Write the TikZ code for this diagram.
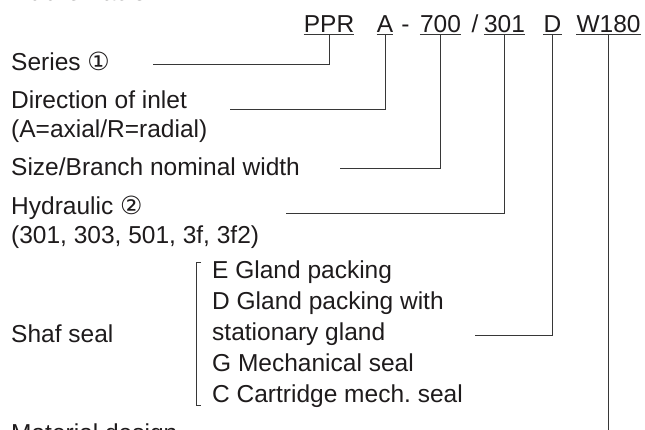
\documentclass[tikz,border=0pt]{standalone}
\usepackage{fontspec}
\setmainfont{Liberation Sans}
\newfontfamily\kyhieu{DejaVu Sans}
\usepackage{xcolor}
\usetikzlibrary{calc, positioning}
\frenchspacing

\definecolor{chu}{RGB}{30,27,28}
\definecolor{net}{RGB}{55,55,55}

\begin{document}
\begin{tikzpicture}[x=1bp, y=-1bp,
    font=\fontsize{24.5bp}{29bp}\selectfont,
    nhan/.style={anchor=base west, inner sep=0pt, text=chu},
    ma/.style={anchor=base, inner xsep=0pt, inner ysep=2bp, text=chu},
    noi/.style={draw=net, line width=1bp}]

    % =================================================================
    % KHUNG HINH (CAT THEO ANH GOC)
    % =================================================================
    \useasboundingbox (0,0) rectangle (645,429);
    \clip (0,0) rectangle (645,429);

    % =================================================================
    % TIEU DE VA DONG KY HIEU
    % =================================================================
    \node[nhan, font=\bfseries\fontsize{25.5bp}{30bp}\selectfont] (title) at (7,0) {Abbreviation};

    \node[ma] (c-ppr)  at (329,32)   {PPR};
    \node[ma] (c-a)    at (385,32)   {A};
    \node[ma] (c-dash) at (405.5,32) {-};
    \node[ma] (c-700)  at (440.5,32) {700};
    \node[ma] (c-sl)   at (475,32)   {/};
    \node[ma] (c-301)  at (504.5,32) {301};
    \node[ma] (c-d)    at (552.5,32) {D};
    \node[ma] (c-w180) at (608.5,32) {W180};

    % gach chan
    \foreach \m in {c-ppr, c-a, c-700, c-301, c-d, c-w180}
        \draw[noi, line width=1.3bp] (\m.south west) -- (\m.south east);

    % =================================================================
    % CAC NHAN BEN TRAI
    % =================================================================
    \node[nhan] (series)    at (11,70)  {Series {\kyhieu\fontsize{25bp}{26bp}\selectfont ①}};
    \node[nhan] (inlet)     at (11,108) {Direction of inlet};
    \node[nhan] (inlet2)    at (11,137) {(A=axial/R=radial)};
    \node[nhan] (size)      at (11,175) {Size/Branch nominal width};
    \node[nhan] (hydraulic) at (11,214) {Hydraulic {\kyhieu\fontsize{25bp}{26bp}\selectfont ②}};
    \node[nhan] (hydlist)   at (11,243) {(301, 303, 501, 3f, 3f2)};
    \node[nhan] (seal)      at (11,342) {Shaf seal};
    \node[nhan] (material)  at (11,441) {Material design};

    % cac loai phot
    \node[nhan] (seal-e)  at (212,278) {E Gland packing};
    \node[nhan] (seal-d)  at (212,309) {D Gland packing with};
    \node[nhan] (seal-d2) at (212,340) {stationary gland};
    \node[nhan] (seal-g)  at (212,371) {G Mechanical seal};
    \node[nhan] (seal-c)  at (212,402) {C Cartridge mech. seal};

    % ngoac vuong
    \draw[noi, line width=0.8bp] (201,262) -- (196,262) -- (196,405) -- (201,405);

    % =================================================================
    % CAC DUONG NOI
    % =================================================================
    \coordinate (series-end)    at (153,64);
    \coordinate (inlet-end)     at (230,109);
    \coordinate (size-end)      at (340,168);
    \coordinate (hydraulic-end) at (286,213);
    \coordinate (seal-end)      at (475,335);
    \coordinate (material-end)  at ($(c-w180.south)+(0,420)$);

    \draw[noi] (c-ppr.south) |- (series-end);
    \draw[noi] (c-a.south)   |- (inlet-end);
    \draw[noi] (c-700.south) |- (size-end);
    \draw[noi] (c-301.south) |- (hydraulic-end);
    \draw[noi] (c-d.south)   |- (seal-end);
    \draw[noi] (c-w180.south) -- (material-end);

\end{tikzpicture}
\end{document}
